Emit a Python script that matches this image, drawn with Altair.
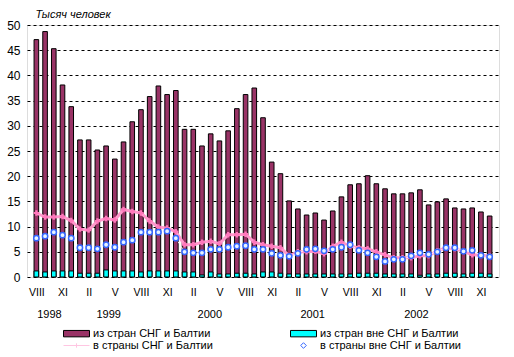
import altair as alt
import pandas as pd

# Monthly values, Aug 1998 .. Dec 2002 (thousand persons)
from_cis = [47.1, 48.7, 45.3, 38.1, 33.8, 27.2, 27.2, 25.2, 26.0, 23.4, 26.8, 30.8, 33.2,
            35.8, 37.9, 36.2, 37.0, 29.3, 29.3, 26.0, 28.4, 27.0, 29.0, 33.4, 36.2, 37.5,
            31.6, 22.8, 20.5, 15.1, 13.5, 12.3, 12.7, 11.3, 13.1, 15.9, 18.3, 18.5, 20.1,
            18.5, 17.5, 16.5, 16.5, 16.7, 17.3, 14.3, 14.9, 15.5, 13.7, 13.5, 13.7, 12.9, 12.1]
from_noncis = [1.2, 1.0, 1.2, 1.2, 1.2, 0.75, 0.75, 0.75, 1.4, 1.2, 1.2, 1.2, 1.0, 1.2, 1.2,
               1.2, 1.2, 1.0, 1.0, 0.4, 1.0, 0.6, 0.6, 0.75, 0.75, 0.6, 1.0, 1.0, 0.75, 0.6,
               0.6, 0.6, 0.6, 0.6, 0.6, 0.6, 0.6, 0.75, 0.75, 0.75, 0.6, 0.6, 0.6, 0.6, 0.35,
               0.6, 0.6, 0.75, 0.75, 0.6, 0.75, 0.75, 0.6]
to_cis = [12.7, 11.9, 11.9, 12.0, 11.2, 9.5, 9.3, 11.1, 11.6, 11.3, 13.4, 13.0, 12.7, 11.1,
          9.9, 9.7, 9.0, 6.4, 6.4, 6.9, 7.1, 6.6, 8.4, 8.4, 8.5, 6.9, 6.4, 6.1, 5.8, 4.2,
          5.0, 5.0, 5.1, 4.6, 6.1, 6.9, 6.1, 5.8, 5.6, 5.0, 4.4, 3.8, 3.8, 3.8, 4.2, 4.2,
          5.2, 5.8, 5.6, 5.1, 4.4, 4.3, 4.1]
to_noncis = [7.7, 8.1, 8.9, 8.3, 7.7, 5.8, 5.8, 5.6, 6.4, 5.9, 6.9, 7.3, 8.9, 8.9, 8.9, 9.1,
             7.7, 5.0, 4.8, 4.8, 5.5, 5.5, 5.9, 6.1, 6.2, 5.5, 5.5, 4.7, 4.3, 4.1, 4.7, 5.5,
             5.6, 5.2, 5.5, 5.9, 6.4, 5.3, 4.8, 4.0, 3.1, 3.5, 3.5, 4.2, 4.8, 4.5, 5.0, 5.8,
             5.8, 5.1, 5.3, 4.3, 4.0]

roman = ["I", "II", "III", "IV", "V", "VI", "VII", "VIII", "IX", "X", "XI", "XII"]
first_month = 7  # August (0-based)
years = ["1998", "1999", "2000", "2001", "2002"]
year_anchor = [1.5, 8.3, 19.9, 31.7, 43.6]  # month index under which each year label sits
y_ticks = [0, 5, 10, 15, 20, 25, 30, 35, 40, 45, 50]

s_from_cis = "из стран СНГ и Балтии"
s_from_non = "из стран вне СНГ и Балтии"
s_to_cis = "в страны СНГ и Балтии"
s_to_non = "в страны вне СНГ и Балтии"
# legend fills column by column: left column first, then right column
legend_order = [s_from_cis, s_to_cis, s_from_non, s_to_non]

n = len(from_cis)
x_ticks = list(range(0, n, 3))
df = pd.DataFrame({
    "i": list(range(n)),
    "from_cis": from_cis,
    "from_noncis": from_noncis,
    "to_cis": to_cis,
    "to_noncis": to_noncis,
})
years_df = pd.DataFrame({"i": year_anchor, "year": years})
legend_df = pd.DataFrame({"series": legend_order})

FONT = "Liberation Sans"
W, H = 472, 252

roman_js = "[" + ",".join("'%s'" % r for r in roman) + "]"
x_scale = alt.Scale(domain=[-0.5, n - 0.5], nice=False, zero=False)
x_axis = alt.Axis(values=x_ticks, tickCount=len(x_ticks),
                  labelExpr=f"{roman_js}[(datum.value + {first_month}) % 12]",
                  grid=False, ticks=False, domain=False, labelPadding=10,
                  labelOverlap=False, labelFlush=False, labelBound=False,
                  labelFontSize=10.5, labelFont=FONT, labelColor="black", title=None)
y_scale = alt.Scale(domain=[0, 50], nice=False, zero=True)
y_axis = alt.Axis(values=y_ticks, tickCount=len(y_ticks), grid=True, gridDash=[3, 3],
                  gridColor="black", gridOpacity=1, gridWidth=1, ticks=False, domain=False,
                  labelPadding=7, labelFontSize=12, labelFont=FONT, labelColor="black",
                  labelOverlap=False, labelFlush=False, labelBound=False,
                  title="Тысяч человек", titleAngle=0, titleAlign="left",
                  titleBaseline="middle", titleX=8, titleY=-11, titleFont=FONT,
                  titleFontSize=11, titleFontStyle="italic", titleFontWeight="normal",
                  titleColor="black")


def X():
    return alt.X("i:Q", scale=x_scale, axis=x_axis)


def Y(field):
    return alt.Y(f"{field}:Q", scale=y_scale, axis=y_axis)


base = alt.Chart(df)

bars1 = base.mark_bar(color="#993366", stroke="black", strokeWidth=1, size=4.6).encode(
    x=X(), y=Y("from_cis"))
bars2 = base.mark_bar(color="#00FFFF", stroke="black", strokeWidth=1, size=4.6).encode(
    x=X(), y=Y("from_noncis"))

pink_line = base.mark_line(color="#FF99CC", strokeWidth=3).encode(x=X(), y=Y("to_cis"))
pink_pts = base.mark_point(shape="cross", filled=True, color="#FF77BB", size=30,
                           opacity=1).encode(x=X(), y=Y("to_cis"))
blue_line = base.mark_line(color="white", strokeWidth=1, strokeDash=[2, 1]).encode(
    x=X(), y=Y("to_noncis"))
blue_pts = base.mark_point(shape="circle", filled=False, fill="#E6F2FF", stroke="#3366FF",
                           strokeWidth=1.5, size=28, opacity=1).encode(
    x=X(), y=Y("to_noncis"))

year_text = alt.Chart(years_df).mark_text(fontSize=11, font=FONT, color="black",
                                         baseline="middle", align="center").encode(
    x=X(), y=alt.value(H + 38), text="year:N")

rect_path = "M-3.25,-0.8H3.25V0.8H-3.25Z"
shape_range = [rect_path, "M-3.25,0H3.25M0,-0.55V0.55M-0.55,0H0.55", rect_path,
               "M0,-0.7L0.7,0L0,0.7L-0.7,0Z"]
fill_range = ["#993366", "transparent", "#00FFFF", "transparent"]
stroke_range = ["black", "#FFC6E2", "black", "#3366FF"]

leg_layer = alt.Chart(legend_df).transform_filter("false").mark_point(opacity=1).encode(
    shape=alt.Shape("series:N", scale=alt.Scale(domain=legend_order, range=shape_range),
                    legend=alt.Legend(title=None, orient="none", legendX=44, legendY=303,
                                      columns=2, columnPadding=75, rowPadding=0,
                                      symbolSize=64, symbolStrokeWidth=1, labelOffset=11,
                                      labelFontSize=11, labelFont=FONT, labelColor="black",
                                      padding=0, symbolOpacity=1)),
    fill=alt.Fill("series:N", scale=alt.Scale(domain=legend_order, range=fill_range),
                  legend=None),
    stroke=alt.Stroke("series:N", scale=alt.Scale(domain=legend_order, range=stroke_range),
                      legend=None),
)

chart = alt.layer(bars1, bars2, pink_line, pink_pts, blue_line, blue_pts, year_text,
                  leg_layer).properties(
    width=W, height=H,
    autosize=alt.AutoSizeParams(type="none"),
    padding={"left": 27, "top": 25, "right": 15, "bottom": 80},
).configure_view(stroke="#333333", strokeWidth=1).configure_axis(
    labelOverlap=False, labelFlush=False
).configure(background="white")

chart.save("out.html", embed_options={"renderer": "svg", "actions": False})
